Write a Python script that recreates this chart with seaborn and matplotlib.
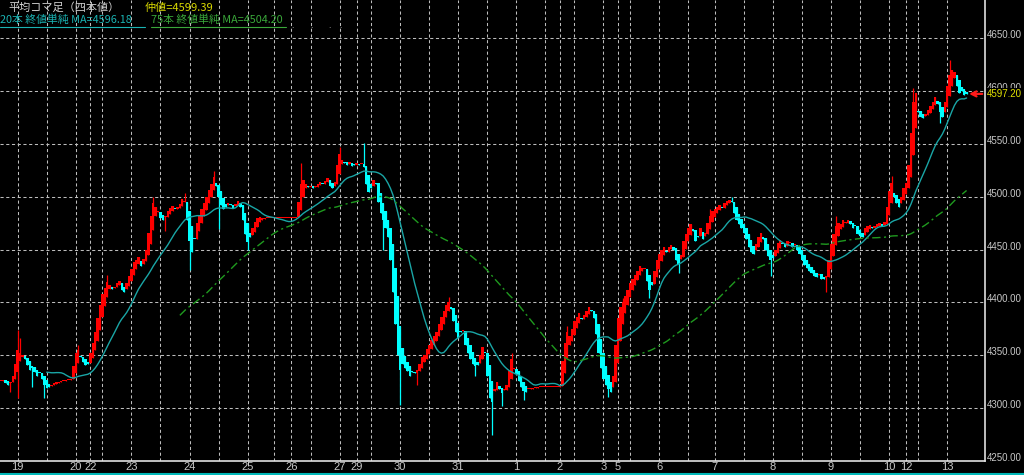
import numpy as np
import pandas as pd
import seaborn as sns
import matplotlib.pyplot as plt
from matplotlib import transforms
from matplotlib.lines import Line2D

# heikin-ashi close per bar (hourly)
closes = [
    4326, 4327, 4324, 4322, 4325, 4330, 4342, 4355, 4352, 4350,
    4346, 4341, 4336, 4338, 4334, 4330, 4333, 4328, 4322, 4319,
    4320, 4322, 4324, 4325, 4325, 4326, 4326, 4327, 4327, 4328,
    4340, 4352, 4355, 4348, 4344, 4341, 4342, 4352, 4362, 4372,
    4385, 4398, 4408, 4414, 4419, 4416, 4413, 4415, 4418, 4420,
    4412, 4410, 4418, 4425, 4432, 4438, 4440, 4443, 4434, 4441,
    4450, 4466, 4482, 4494, 4490, 4486, 4480, 4478, 4482, 4486,
    4489, 4491, 4488, 4490, 4493, 4498, 4495, 4478, 4458, 4448,
    4460, 4475, 4482, 4488, 4494, 4500, 4506, 4512, 4519, 4510,
    4500, 4492, 4488, 4490, 4494, 4492, 4489, 4493, 4496, 4490,
    4478, 4465, 4457, 4462, 4470, 4476, 4480, 4481, 4480, 4480,
    4480, 4480, 4480, 4480, 4480, 4480, 4480, 4480, 4480, 4480,
    4480, 4480, 4481, 4495, 4512, 4516, 4512, 4509, 4510, 4508,
    4510, 4512, 4514, 4512, 4515, 4518, 4510, 4508, 4514, 4530,
    4540, 4535, 4532, 4530, 4533, 4529, 4530, 4532, 4530, 4531,
    4528, 4512, 4504, 4508, 4516, 4512, 4495, 4485, 4478, 4470,
    4462, 4440, 4410, 4380, 4350, 4336, 4342, 4338, 4335, 4330,
    4334, 4333, 4336, 4342, 4348, 4350, 4356, 4360, 4364, 4368,
    4372, 4380, 4386, 4392, 4398, 4400, 4394, 4382, 4372, 4366,
    4372, 4374, 4360, 4352, 4346, 4342, 4340, 4341, 4350, 4358,
    4352, 4330, 4310, 4306, 4318, 4325, 4318, 4314, 4318, 4322,
    4335, 4346, 4338, 4332, 4326, 4320, 4316, 4315, 4318, 4319,
    4319, 4320, 4320, 4320, 4320, 4320, 4320, 4320, 4320, 4320,
    4320, 4322, 4345, 4362, 4372, 4368, 4375, 4382, 4386, 4390,
    4384, 4388, 4392, 4396, 4392, 4385, 4370, 4352, 4338, 4328,
    4322, 4318, 4315, 4330, 4360, 4385, 4396, 4400, 4406, 4412,
    4418, 4422, 4426, 4430, 4434, 4433, 4432, 4420, 4412, 4416,
    4430, 4440, 4446, 4450, 4452, 4448, 4452, 4454, 4450, 4440,
    4436, 4445, 4458, 4465, 4470, 4474, 4468, 4458, 4462, 4470,
    4460, 4466, 4475, 4482, 4486, 4488, 4490, 4492, 4489, 4494,
    4496, 4497, 4495, 4485, 4478, 4474, 4470, 4466, 4460, 4452,
    4448, 4446, 4455, 4462, 4466, 4460, 4450, 4444, 4440, 4442,
    4450, 4456, 4459, 4455, 4452, 4458, 4456, 4452, 4455, 4450,
    4446, 4440, 4435, 4433, 4430, 4428, 4425, 4424, 4427, 4422,
    4422, 4425, 4440, 4455, 4465, 4472, 4475, 4474, 4478, 4476,
    4478, 4474, 4470, 4472, 4465, 4463, 4462, 4470, 4472, 4473,
    4470, 4472, 4474, 4475, 4472, 4476, 4490, 4505, 4513, 4500,
    4494, 4490, 4500, 4508, 4513, 4530, 4560, 4590, 4598, 4580,
    4575, 4574, 4578, 4582, 4586, 4590, 4594, 4588, 4580, 4575,
    4590, 4605, 4615, 4620, 4618, 4605, 4598, 4600, 4596, 4597.2,
]

# visible wick spikes: bar -> price
hi_wick = {7: 4374, 8: 4366, 32: 4360, 44: 4426, 63: 4500, 76: 4503, 88: 4524,
           124: 4532, 140: 4547, 150: 4551, 185: 4405, 211: 4352, 234: 4378,
           257: 4404, 293: 4488, 302: 4500, 345: 4482, 368: 4520, 377: 4603,
           392: 4629}
lo_wick = {4: 4315, 7: 4310, 13: 4320, 18: 4310, 68: 4468, 78: 4431, 90: 4469,
           102: 4450, 158: 4450, 165: 4303, 172: 4322, 196: 4330, 203: 4275,
           207: 4302, 216: 4308, 251: 4311, 268: 4404, 280: 4428, 318: 4425,
           341: 4410, 388: 4570}

grid_bars = [7, 19, 31, 37, 42, 54, 66, 78, 90, 102, 113, 120, 128, 140, 147, 153,
             165, 177, 189, 201, 213, 225, 231, 237, 249, 255, 260, 272, 284, 295,
             307, 319, 331, 343, 355, 367, 374, 379, 391]
date_bars = [7, 31, 37, 54, 78, 102, 120, 140, 147, 165, 189, 213, 231, 249, 255,
             272, 295, 319, 343, 367, 374, 391]
date_labels = ['19', '20', '22', '23', '24', '25', '26', '27', '29', '30', '31',
               '1', '2', '3', '5', '6', '7', '8', '9', '10', '12', '13']
price_ticks = [4250, 4300, 4350, 4400, 4450, 4500, 4550, 4600, 4650]

last_price = 4597.20
mid_price = 4599.39
ma20_last = 4596.18
ma75_last = 4504.20

# ------------------------------
# heikin-ashi table
# ------------------------------
df = pd.DataFrame({'close': closes})
df['bar'] = np.arange(len(df))
ha_open = [closes[0]]
for i in range(1, len(closes)):
    ha_open.append((ha_open[-1] + closes[i - 1]) / 2)
df['open'] = ha_open
df['high'] = df[['open', 'close']].max(axis=1)
df['low'] = df[['open', 'close']].min(axis=1)
for k, v in hi_wick.items():
    df.loc[k, 'high'] = max(df.loc[k, 'high'], v)
for k, v in lo_wick.items():
    df.loc[k, 'low'] = min(df.loc[k, 'low'], v)
df['up'] = df['close'] >= df['open']
df['ma20'] = df['close'].rolling(20).mean()
df['ma75'] = df['close'].rolling(75).mean()

sns.set_theme(style='dark', rc={'axes.facecolor': 'black', 'figure.facecolor': 'black'})
plt.rcParams['font.family'] = ['Noto Sans CJK JP', 'DejaVu Sans']
NUM_FONT = ['Liberation Sans', 'DejaVu Sans']

W, H = 1024, 475
fig = plt.figure(figsize=(W / 100, H / 100), dpi=100)
ax = fig.add_axes([0, 14 / H, 985 / W, 1 - 14 / H])
ax.set_facecolor('black')

GRID = '#bdbdbd'
for p in price_ticks[1:]:
    ax.axhline(p, color=GRID, lw=0.75, ls=(0, (3, 2.5)), zorder=0)
for b in grid_bars:
    ax.axvline(b, color=GRID, lw=0.75, ls=(0, (3, 2.5)), zorder=0)

# candles
colors = np.where(df['up'], '#ff0000', '#00ffff')
ax.vlines(df['bar'], df['low'], df['high'], colors=colors, lw=0.9, zorder=2)
body_lo = df[['open', 'close']].min(axis=1)
body_h = np.maximum((df['close'] - df['open']).abs(), 1.0)
ax.bar(df['bar'], body_h, bottom=body_lo, width=1.0, color=colors, linewidth=0, zorder=2)

# moving averages
sns.lineplot(data=df, x='bar', y='ma20', ax=ax, color='#1aa6a6', lw=1.0, zorder=3)
sns.lineplot(data=df, x='bar', y='ma75', ax=ax, color='#1f9a1f', lw=1.0,
             linestyle=(0, (6, 2.5, 1.5, 2.5)), zorder=3)

ax.set_xlim(-0.3, 406.6)
ax.set_ylim(4250, 4686)
ax.set_xlabel('')
ax.set_ylabel('')
ax.set_xticks(date_bars, labels=date_labels)
ax.set_yticks([])
ax.tick_params(axis='x', length=0, pad=1, labelsize=8, colors='#c8c8c8')
for lbl in ax.get_xticklabels():
    lbl.set_family(NUM_FONT)
ax.grid(False)
for s in ['left', 'top']:
    ax.spines[s].set_visible(False)
for s in ['right', 'bottom']:
    ax.spines[s].set_visible(True)
    ax.spines[s].set_color('#e0e0e0')
    ax.spines[s].set_linewidth(1.2)

# right price scale
lift = transforms.ScaledTranslation(0, 3 / 100, fig.dpi_scale_trans)
blend = transforms.blended_transform_factory(ax.transAxes, ax.transData)
for p in price_ticks:
    ax.text(1.002, p, f'{p:.2f}', transform=blend + lift, ha='left', va='center',
            fontsize=7, family=NUM_FONT, color='#c8c8c8', clip_on=False)

# last price marker
ax.text(1.002, last_price, f'{last_price:.2f}', transform=blend, ha='left', va='center',
        fontsize=7, family=NUM_FONT, color='#e2e200', clip_on=False,
        bbox=dict(facecolor='black', edgecolor='none', pad=0.5))
ax.annotate('', xy=(0.981, last_price), xytext=(1.0, last_price),
            xycoords=blend, textcoords=blend,
            arrowprops=dict(arrowstyle='->', color='#ff1a1a', lw=1.6,
                            mutation_scale=9), annotation_clip=False)

# header texts
fig.text(8 / W, 1 - 8 / H, '平均コマ足（四本値）', fontsize=8, color='#d0d0d0', va='center')
fig.text(145 / W, 1 - 8 / H, f'仲値={mid_price:.2f}', fontsize=8, color='#d8d800', va='center')
fig.text(0, 1 - 20 / H, f'20本 終値単純 MA={ma20_last:.2f}', fontsize=7.8,
         color='#1ab4b4', va='center')
fig.text(151 / W, 1 - 20 / H, f'75本 終値単純 MA={ma75_last:.2f}', fontsize=7.8,
         color='#3aa83a', va='center')
fig.add_artist(Line2D([0, 145 / W], [1 - 27 / H] * 2, color='#1ab4b4', lw=0.8))
fig.add_artist(Line2D([151 / W, 286 / W], [1 - 27 / H] * 2, color='#3aa83a', lw=0.8))
for xd in [291, 310, 328, 339]:
    fig.text(xd / W, 1 - 25 / H, '.', fontsize=6, color='#c0c0c0', va='center')

# window border at bottom
fig.add_artist(Line2D([0, 1], [1.5 / H] * 2, color='#00b8b8', lw=1.5))

fig.savefig('out.png', dpi=100, facecolor='black')
